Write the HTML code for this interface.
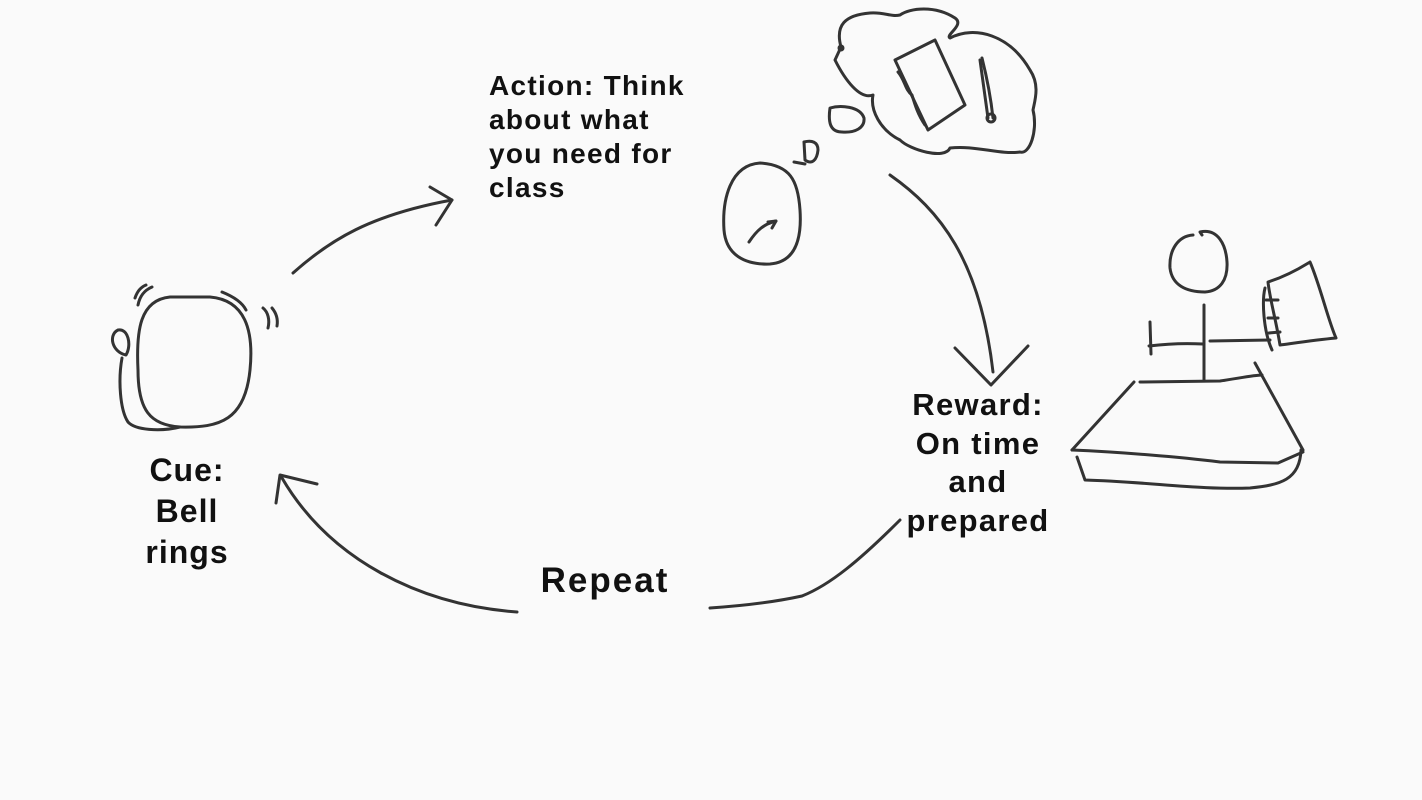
<!DOCTYPE html>
<html><head><meta charset="utf-8"><style>
html,body{margin:0;padding:0;background:#fafafa;}
#c{position:relative;width:1422px;height:800px;overflow:hidden;background:#fafafa;font-family:"Liberation Sans",sans-serif;font-weight:bold;color:#111;}
.t{position:absolute;white-space:nowrap;}
svg{position:absolute;left:0;top:0;}
</style></head><body><div id="c">
<svg width="1422" height="800" fill="none" stroke="#333" stroke-width="3" stroke-linecap="round" stroke-linejoin="round">
<path d="M293,273 C330,240 370,215 452,200"/>
<path d="M430,187 L452,200 L436,225"/>
<path d="M890,175 C940,210 980,260 993,372"/>
<path d="M955,348 L991,385 L1028,346"/>
<path d="M900,520 C860,560 830,585 802,596 C770,603 740,606 710,608"/>
<path d="M517,612 C420,605 330,560 282,478"/>
<path d="M276,503 L280,475 L317,484"/>
<path d="M170,297 C140,300 136,330 138,370 C138,410 150,425 180,427 C220,428 245,420 250,370 C254,330 245,300 210,297 Z"/>
<path d="M126,355 C112,352 108,335 118,330 C128,328 132,345 126,355 Z"/>
<path d="M122,358 C118,380 120,410 128,422 C135,430 160,432 180,427"/>
<path d="M138,305 C140,295 145,290 152,287"/><path d="M135,298 C137,292 141,287 146,285"/>
<path d="M222,292 C232,296 242,302 246,310"/>
<path d="M263,308 C268,312 270,320 268,328"/><path d="M272,308 C277,314 278,320 277,326"/>
<path d="M760,163 C730,165 722,200 724,230 C726,255 745,265 770,264 C795,262 802,240 800,210 C798,180 790,165 760,163 Z"/>
<path d="M749,242 C757,230 764,224 776,221"/><path d="M768,222 L776,221 L772,228"/>
<path d="M804,142 L805,160 C812,165 817,160 818,150 C818,142 812,140 804,142"/><path d="M794,162 L805,164"/>
<path d="M830,108 C840,105 860,106 864,118 C865,128 855,133 842,132 C830,132 828,122 830,108 Z"/>
<path d="M841,47 C835,25 845,15 870,13 C885,12 890,17 900,15 C910,8 935,5 955,18 C965,25 945,35 950,38 C975,25 1010,35 1030,70 C1040,85 1035,100 1033,110 C1038,130 1030,155 1020,152 C1000,155 975,145 950,148 C945,160 910,150 900,140 C880,130 870,110 873,95 C860,100 845,80 835,60 Z"/>
<circle cx="841" cy="48" r="2" fill="#333"/>
<path d="M895,60 L935,40 L965,105 L928,130 Z"/>
<path d="M898,72 C905,80 905,90 912,95 C915,105 918,115 925,125"/>
<path d="M982,58 C985,70 990,90 993,118"/><path d="M980,60 L988,118"/><circle cx="991" cy="118" r="4"/>
<path d="M1193,235 C1178,236 1169,250 1170,268 C1172,285 1186,292 1205,292 C1220,291 1228,280 1227,262 C1226,245 1218,228 1200,232 L1202,235"/>
<path d="M1204,305 L1204,381"/>
<path d="M1150,322 L1151,354"/><path d="M1149,346 C1165,344 1185,343 1203,344"/>
<path d="M1210,341 L1270,340"/>
<path d="M1268,282 C1290,275 1305,265 1310,262 C1320,285 1328,320 1336,338 C1315,340 1295,343 1280,345 C1276,320 1270,300 1268,282 Z"/>
<path d="M1265,288 C1262,300 1263,330 1272,350"/><path d="M1266,300 L1278,300"/><path d="M1268,318 L1278,318"/><path d="M1269,333 L1280,332"/>
<path d="M1134,382 L1072,450"/>
<path d="M1140,382 L1220,381 C1240,378 1255,375 1262,375"/>
<path d="M1255,363 L1303,450"/>
<path d="M1072,450 C1120,452 1180,457 1220,462 L1278,463 L1303,452"/>
<path d="M1077,457 L1085,480 C1150,482 1200,490 1250,488 C1280,485 1300,480 1301,450"/>
</svg>
<div class="t" style="left:489px;top:69px;font-size:28px;letter-spacing:1.3px;line-height:34px;">Action: Think<br>about what<br>you need for<br>class</div>
<div class="t" style="left:97px;top:450px;width:180px;text-align:center;font-size:32px;letter-spacing:1px;line-height:41px;">Cue:<br>Bell<br>rings</div>
<div class="t" style="left:868px;top:386px;width:220px;text-align:center;font-size:31px;letter-spacing:1.3px;line-height:38.5px;">Reward:<br>On time<br>and<br>prepared</div>
<div class="t" style="left:495px;top:560px;width:220px;text-align:center;font-size:35px;letter-spacing:2px;line-height:42px;">Repeat</div>
</div></body></html>
